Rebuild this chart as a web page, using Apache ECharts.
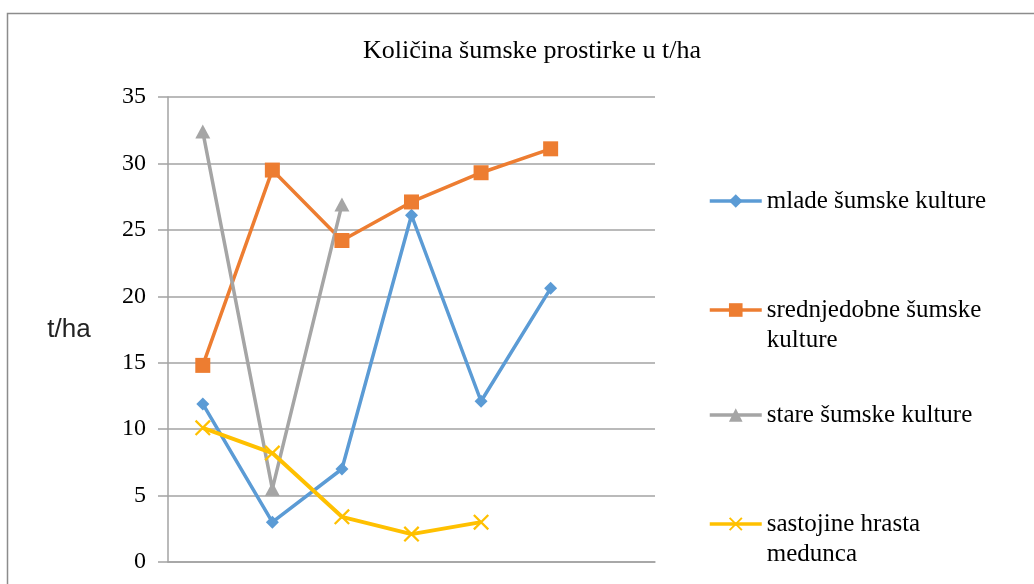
<!DOCTYPE html>
<html>
<head>
<meta charset="utf-8">
<script src="https://cdn.jsdelivr.net/npm/echarts@6/dist/echarts.min.js"></script>
<style>
  html, body { margin: 0; padding: 0; background: #fff; }
  #chart { width: 1034px; height: 584px; }
</style>
</head>
<body>
<div id="chart"></div>
<script>
// categories (labels fall below the visible area in the reference)
const categories = ['1', '2', '3', '4', '5', '6', '7']
const yTicks = [0, 5, 10, 15, 20, 25, 30, 35]

const seriesNames = [
  'mlade šumske kulture',
  'srednjedobne šumske\nkulture',
  'stare šumske kulture',
  'sastojine hrasta\nmedunca'
]
const mlade = [11.9, 3.0, 7.0, 26.1, 12.1, 20.6, null]
const srednjedobne = [14.8, 29.5, 24.2, 27.1, 29.3, 31.1, null]
const stare = [32.4, 5.5, 26.9, null, null, null, null]
const sastojine = [10.1, 8.2, 3.4, 2.1, 3.0, null, null]

const serif = '"Liberation Serif", "DejaVu Serif", serif'
const gridColor = '#a3a3a3'
const xMark = 'path://M0,1 L1,0 L10,9 L9,10 Z M9,0 L10,1 L1,10 L0,9 Z'

const chart = echarts.init(document.getElementById('chart'))

const legendBase = {
  orient: 'vertical',
  left: 708,
  padding: 0,
  itemWidth: 52,
  itemHeight: 17,
  itemGap: 0,
  selectedMode: false,
  lineStyle: { width: 3.5 },
  textStyle: { fontFamily: serif, fontSize: 25, color: '#000', lineHeight: 30 }
}

// two-line names: a blank first line keeps the icon beside the first text line
const firstLineFormatter = name => '\n' + name

const option = {
  backgroundColor: '#fff',
  animation: false,
  title: {
    text: 'Količina šumske prostirke u t/ha',
    left: 527,
    top: 33,
    textAlign: 'center',
    textStyle: { fontFamily: serif, fontSize: 26, fontWeight: 'normal', color: '#000' }
  },
  legend: [
    Object.assign({}, legendBase, { top: 186, data: [seriesNames[0]] }),
    Object.assign({}, legendBase, { top: 265, data: [seriesNames[1]], formatter: firstLineFormatter }),
    Object.assign({}, legendBase, { top: 400, data: [seriesNames[2]] }),
    Object.assign({}, legendBase, { top: 479, data: [seriesNames[3]], formatter: firstLineFormatter })
  ],
  grid: { left: 168, right: 379, top: 97, bottom: 22, containLabel: false },
  xAxis: {
    type: 'category',
    data: categories,
    boundaryGap: true,
    axisLine: { lineStyle: { color: gridColor, width: 1.5 } },
    axisTick: { show: false },
    axisLabel: { show: false }
  },
  yAxis: {
    type: 'value',
    min: 0,
    max: yTicks[yTicks.length - 1],
    interval: 5,
    name: 't/ha',
    nameLocation: 'middle',
    nameRotate: 0,
    nameGap: 99,
    nameTextStyle: { fontFamily: '"Liberation Sans", Arial, sans-serif', fontSize: 26, color: '#222', align: 'center' },
    axisLine: { show: true, lineStyle: { color: gridColor, width: 1.5 } },
    axisTick: { show: true, length: 10, inside: false, lineStyle: { color: gridColor, width: 1.5 } },
    axisLabel: { margin: 22, fontFamily: serif, fontSize: 24, color: '#000' },
    splitLine: { lineStyle: { color: gridColor, width: 1.5 } }
  },
  graphic: [{
    type: 'rect',
    shape: { x: 7.5, y: 13.5, width: 1100, height: 700 },
    style: { fill: 'none', stroke: '#8c8c8c', lineWidth: 1.5 },
    silent: true
  }],
  series: [
    {
      name: seriesNames[0], type: 'line', data: mlade,
      symbol: 'diamond', symbolSize: [13, 13],
      lineStyle: { width: 3.5, color: '#5B9BD5' },
      itemStyle: { color: '#5B9BD5' }
    },
    {
      name: seriesNames[1], type: 'line', data: srednjedobne,
      symbol: 'rect', symbolSize: 15,
      lineStyle: { width: 3.5, color: '#ED7D31' },
      itemStyle: { color: '#ED7D31' }
    },
    {
      name: seriesNames[2], type: 'line', data: stare,
      symbol: 'triangle', symbolSize: [15, 14],
      lineStyle: { width: 3.5, color: '#A5A5A5' },
      itemStyle: { color: '#A5A5A5' }
    },
    {
      name: seriesNames[3], type: 'line', data: sastojine,
      symbol: xMark, symbolSize: 16,
      lineStyle: { width: 4, color: '#FFC000' },
      itemStyle: { color: '#FFC000' }
    }
  ]
}

chart.setOption(option)
</script>
</body>
</html>
